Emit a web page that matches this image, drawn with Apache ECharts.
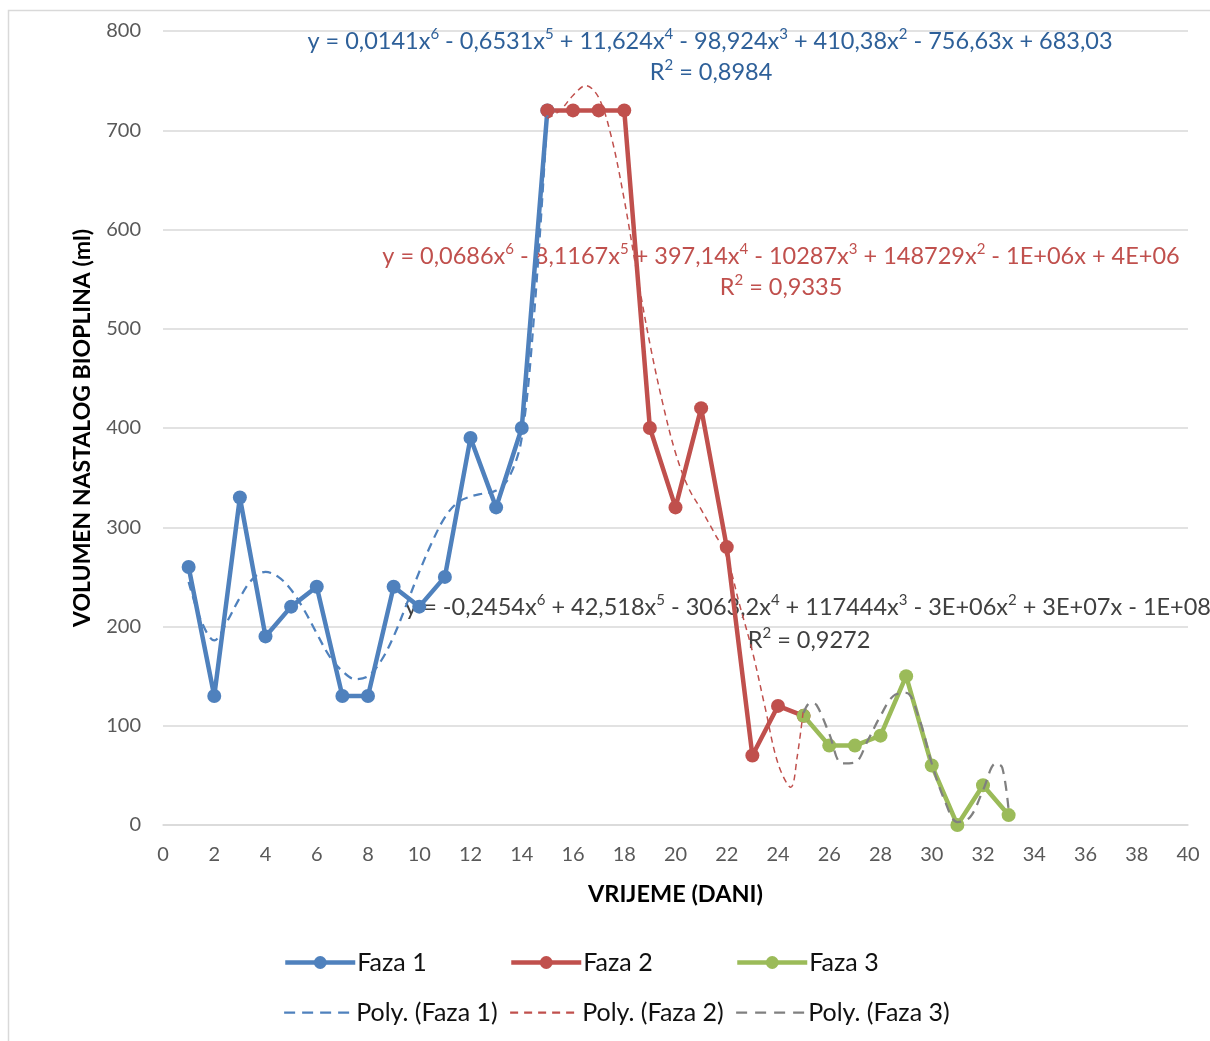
<!DOCTYPE html>
<html>
<head>
<meta charset="utf-8">
<script src="https://cdn.jsdelivr.net/npm/echarts@6/dist/echarts.min.js"></script>
<style>
html,body{margin:0;padding:0;background:#fff;}
#chart{width:1210px;height:1041px;}
</style>
</head>
<body>
<div id="chart"></div>
<script>
// ---- data ----
const faza1Days = [1,2,3,4,5,6,7,8,9,10,11,12,13,14,15];
const faza1Vol  = [260,130,330,190,220,240,130,130,240,220,250,390,320,400,720];
const faza2Days = [15,16,17,18,19,20,21,22,23,24,25];
const faza2Vol  = [720,720,720,720,400,320,420,280,70,120,110];
const faza3Days = [25,26,27,28,29,30,31,32,33];
const faza3Vol  = [110,80,80,90,150,60,0,40,10];

// polynomial trend lines
const poly1Days = [1,1.5,2,2.5,3,3.5,4,4.5,5,5.5,6,6.5,7,7.5,8,8.5,9,9.5,10,10.5,11,11.5,12,12.5,13,13.5,14,14.5,15];
const poly1Vol  = [245,205,186,205,229,248,255,250,237,217,193,170,155,147,150,165,190,222,255,285,310,325,331,334,337,350,390,520,715];
const poly2Days = [15,15.5,16,16.5,17,17.5,18,18.5,19,19.5,20,20.5,21,21.5,22,22.5,23,23.5,24,24.5,24.75,25];
const poly2Vol  = [712,720,735,745,733,693,630,555,485,425,375,340,318,295,270,222,175,118,62,38,69,118];
const poly3Days = [25,25.25,25.5,26,26.5,27,27.5,28,28.5,29,29.5,30,30.5,31,31.5,32,32.5,32.75,33];
const poly3Vol  = [113,123,121,92,62,63,85,110,130,133,108,62,25,3,8,35,62,58,15];

const xTickInterval = 2, xMin = 0, xMax = 40;
const yTickInterval = 100, yMin = 0, yMax = 800;

// ^n marks a superscript
const eq1 = 'y = 0,0141x^6 - 0,6531x^5 + 11,624x^4 - 98,924x^3 + 410,38x^2 - 756,63x + 683,03';
const r1 = 'R^2 = 0,8984';
const eq2 = 'y = 0,0686x^6 - 8,1167x^5 + 397,14x^4 - 10287x^3 + 148729x^2 - 1E+06x + 4E+06';
const r2 = 'R^2 = 0,9335';
const eq3 = 'y = -0,2454x^6 + 42,518x^5 - 3063,2x^4 + 117444x^3 - 3E+06x^2 + 3E+07x - 1E+08';
const r3 = 'R^2 = 0,9272';

const pairs = (xs, ys) => xs.map((x, i) => [x, ys[i]]);
const sup = (s) => s.replace(/\^(\d)/g, '{s|$1}');

const FONT = 'Lato';
const BLUE = '#4f81bd', RED = '#c0504d', GREEN = '#9bbb59', GRAY = '#808080';

const chart = echarts.init(document.getElementById('chart'), null, {renderer: 'canvas'});

function solid(name, color, data) {
  return {
    name, type: 'line', data, z: 3,
    symbol: 'circle', symbolSize: 14,
    lineStyle: {color, width: 4.5},
    itemStyle: {color},
    emphasis: {disabled: true},
    animation: false
  };
}
function dashed(name, color, data, width, dash) {
  return {
    name, type: 'line', data, z: 4,
    symbol: 'none', smooth: 0.35,
    lineStyle: {color, width, type: dash},
    itemStyle: {color},
    emphasis: {disabled: true},
    animation: false
  };
}
function legendItem(name, left, top, isDash, dash) {
  const l = {
    data: [name], left, top, itemWidth: 70, itemHeight: isDash ? 15 : 16, itemGap: 0,
    textStyle: {fontFamily: FONT, fontSize: 25, color: '#111', padding: [0, 0, 0, -3]},
    padding: 0, selectedMode: false
  };
  if (isDash) {
    l.itemStyle = {color: 'rgba(0,0,0,0)', borderWidth: 0, opacity: 0};
    l.lineStyle = {type: dash, width: 2.25};
  } else {
    l.lineStyle = {width: 4.5};
  }
  return l;
}

const eqStyle = (text, color) => ({
  text: sup(text), fontFamily: FONT, fontSize: 23.5, lineHeight: 28, fill: color,
  align: 'center', verticalAlign: 'middle',
  rich: {s: {fontFamily: FONT, fontSize: 15, lineHeight: 15, verticalAlign: 'top', fill: color}}
});

chart.setOption({
  animation: false,
  backgroundColor: '#fff',
  grid: {left: 163, right: 22, top: 31, bottom: 216, containLabel: false},
  xAxis: {
    type: 'value', min: xMin, max: xMax, interval: xTickInterval,
    name: 'VRIJEME (DANI)', nameLocation: 'middle', nameGap: 57,
    nameTextStyle: {fontFamily: FONT, fontSize: 23.5, fontWeight: 'bold', color: '#000'},
    axisLine: {lineStyle: {color: '#d9d9d9', width: 1.5}},
    axisTick: {show: false},
    axisLabel: {fontFamily: FONT, fontSize: 20, color: '#595959', margin: 20},
    splitLine: {show: false}
  },
  yAxis: {
    type: 'value', min: yMin, max: yMax, interval: yTickInterval,
    name: 'VOLUMEN NASTALOG BIOPLINA (ml)', nameLocation: 'middle', nameGap: 69, nameRotate: 90,
    nameTextStyle: {fontFamily: FONT, fontSize: 23, fontWeight: 'bold', color: '#000'},
    axisLine: {show: false},
    axisTick: {show: false},
    axisLabel: {fontFamily: FONT, fontSize: 20, color: '#595959', margin: 22},
    splitLine: {lineStyle: {color: '#d9d9d9', width: 1.5}}
  },
  legend: [
    legendItem('Faza 1', 283, 950, false),
    legendItem('Faza 2', 509, 950, false),
    legendItem('Faza 3', 735, 950, false),
    legendItem('Poly. (Faza 1)', 283, 1000, true, [11, 7]),
    legendItem('Poly. (Faza 2)', 509, 1000, true, [8, 6]),
    legendItem('Poly. (Faza 3)', 735, 1000, true, [11, 8])
  ],
  graphic: [
    {type: 'rect', z: -10, shape: {x: 8.5, y: 10.5, width: 1400, height: 1400}, style: {fill: 'none', stroke: '#d9d9d9', lineWidth: 1.5}, silent: true},
    {type: 'text', z: 1, x: 710, y: 41, style: eqStyle(eq1, '#2e6099')},
    {type: 'text', z: 1, x: 711, y: 72, style: eqStyle(r1, '#2e6099')},
    {type: 'text', z: 1, x: 781, y: 256, style: eqStyle(eq2, RED)},
    {type: 'text', z: 1, x: 781, y: 287, style: eqStyle(r2, RED)},
    {type: 'text', z: 1, x: 808, y: 607, style: eqStyle(eq3, '#404040')},
    {type: 'text', z: 1, x: 809, y: 640, style: eqStyle(r3, '#404040')}
  ],
  series: [
    solid('Faza 1', BLUE, pairs(faza1Days, faza1Vol)),
    solid('Faza 2', RED, pairs(faza2Days, faza2Vol)),
    solid('Faza 3', GREEN, pairs(faza3Days, faza3Vol)),
    dashed('Poly. (Faza 1)', BLUE, pairs(poly1Days, poly1Vol), 2.25, [9, 6]),
    dashed('Poly. (Faza 2)', RED, pairs(poly2Days, poly2Vol), 1.5, [6, 4.5]),
    dashed('Poly. (Faza 3)', GRAY, pairs(poly3Days, poly3Vol), 2.25, [10, 7])
  ]
});
</script>
</body>
</html>
